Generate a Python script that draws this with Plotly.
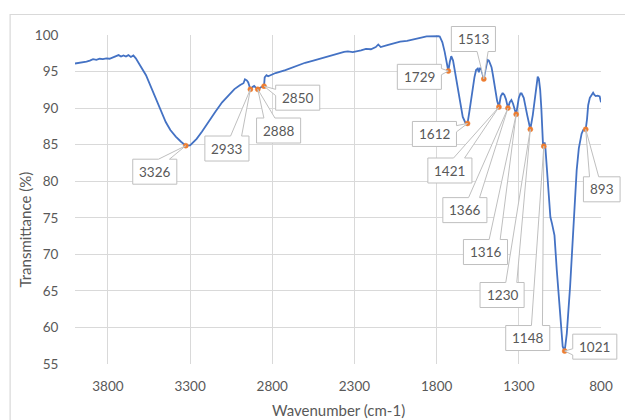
import plotly.graph_objects as go

# ---------------- data ----------------
wavenumber = [4000, 3960, 3930, 3910, 3890, 3870, 3850, 3830, 3810, 3790, 3770, 3750, 3735,
              3720, 3705, 3690, 3675, 3660, 3645, 3630, 3615, 3600, 3568, 3540, 3508, 3478,
              3448, 3420, 3387, 3355, 3326, 3300, 3287, 3260, 3227, 3190, 3146, 3105, 3066,
              3030, 2995, 2975, 2966, 2955, 2946, 2933, 2920, 2910, 2900, 2888, 2869, 2850,
              2846, 2835, 2825, 2780, 2720, 2665, 2600, 2550, 2504, 2420, 2390, 2363, 2340,
              2310, 2260, 2230, 2200, 2170, 2155, 2140, 2100, 2060, 2022, 1980, 1940, 1900,
              1861, 1830, 1801, 1790, 1781, 1765, 1751, 1740, 1729, 1720, 1711, 1700, 1690,
              1681, 1661, 1641, 1625, 1612, 1601, 1590, 1581, 1570, 1560, 1550, 1543, 1537,
              1528, 1520, 1513, 1507, 1500, 1490, 1482, 1474, 1466, 1458, 1444, 1432, 1421,
              1410, 1400, 1396, 1388, 1378, 1366, 1355, 1345, 1335, 1325, 1316, 1300, 1290,
              1283, 1270, 1249, 1230, 1215, 1199, 1190, 1185, 1178, 1170, 1163, 1155, 1152,
              1148, 1143, 1138, 1130, 1118, 1108, 1098, 1083, 1069, 1049, 1033, 1021, 1008,
              988, 968, 948, 935, 928, 918, 908, 893, 885, 878, 868, 858, 848, 840, 832, 820,
              808, 800]
transmittance = [96.1, 96.2, 96.35, 96.5, 96.7, 96.6, 96.75, 96.7, 96.8, 96.75, 96.9, 97.1, 97.25,
                 97.05, 97.2, 97.05, 97.25, 97.0, 97.2, 96.8, 96.3, 95.7, 94.5, 93.0, 91.3, 89.6,
                 88.1, 87.0, 86.1, 85.4, 84.86, 84.9, 85.2, 85.8, 86.8, 88.1, 89.5, 90.8, 91.8,
                 92.6, 93.15, 93.4, 93.95, 93.8, 93.5, 92.57, 92.9, 93.05, 92.8, 92.57, 92.85, 93.0,
                 94.2, 94.5, 94.35, 94.8, 95.2, 95.7, 96.2, 96.5, 96.8, 97.3, 97.5, 97.7, 97.75,
                 97.65, 97.9, 98.1, 98.05, 98.35, 98.7, 98.35, 98.6, 98.85, 99.1, 99.2, 99.45, 99.6,
                 99.8, 99.85, 99.9, 99.85, 99.8, 99.0, 97.7, 96.2, 95.07, 96.3, 97.1, 96.5, 95.2,
                 93.8, 90.9, 88.8, 88.0, 87.9, 89.5, 91.2, 92.7, 94.2, 95.2, 95.4, 94.9, 95.5,
                 95.3, 94.6, 93.98, 94.8, 95.8, 96.6, 96.5, 96.0, 95.6, 94.6, 92.7, 91.0, 90.15,
                 91.6, 92.0, 92.0, 91.8, 91.2, 90.0, 90.8, 91.1, 90.6, 89.8, 89.15, 91.4, 92.0,
                 92.0, 91.4, 89.05, 87.1, 89.05, 92.25, 93.8, 94.3, 94.0, 92.5, 90.0, 85.5, 84.6,
                 84.8, 85.3, 84.5, 82.0, 79.25, 75.1, 74.2, 72.6, 67.85, 61.9, 57.4, 56.77, 59.2,
                 65.6, 73.3, 81.5, 84.5, 85.6, 86.5, 87.0, 87.1, 88.5, 90.4, 91.4, 91.8, 92.1, 91.8, 91.65, 91.7,
                 91.6, 90.8]

peak_wavenumbers = [3326, 2933, 2888, 2850, 1729, 1612, 1513, 1421, 1366, 1316, 1230, 1148, 1021, 893]
peak_values = [84.86, 92.57, 92.57, 93.0, 95.07, 87.9, 93.98, 90.15, 90.0, 89.15, 87.1, 84.8, 56.77, 87.1]
peak_labels = [str(w) for w in peak_wavenumbers]

x_ticks = [3800, 3300, 2800, 2300, 1800, 1300, 800]
y_ticks = [55, 60, 65, 70, 75, 80, 85, 90, 95, 100]

# ---------------- layout geometry ----------------
FW, FH = 625, 420
L, R, T, B = 75, 606, 35, 364
PW, PH = R - L, B - T
X0, X1 = 4000, 800
Y0, Y1 = 55, 100

def px_x(w):
    return L + (X0 - w) / (X0 - X1) * PW

def px_y(t):
    return T + (Y1 - t) / (Y1 - Y0) * PH

def paper_x(p):
    return (p - L) / PW

def paper_y(p):
    return (B - p) / PH

# callout box offsets (pixels, relative to marker)
callout_offsets = [(-31.3, 26.0), (-23.7, 59.2), (21.0, 41.2), (34.0, 11.5), (-29.2, 5.8),
                   (-33.4, 10.5), (-10.5, -40.0), (-49.5, 63.5), (-43.5, 102.0), (-31.0, 137.7),
                   (-28.5, 165.7), (-16.2, 191.9), (30.4, -4.4), (16.2, 60.0)]
BOX_H = 25

TXT = "#595959"
GRID = "#D9D9D9"
FONT = "Lato"

fig = go.Figure()
fig.add_trace(go.Scatter(x=wavenumber, y=transmittance, mode="lines",
                         line=dict(color="#4472C4", width=1.8), hoverinfo="skip"))

shapes = []
annotations = []
for w, t, lab, (ox, oy) in zip(peak_wavenumbers, peak_values, peak_labels, callout_offsets):
    mx, my = px_x(w), px_y(t)
    bw = 37 if len(lab) == 3 else 44.5
    cx, cy = mx + ox, my + oy
    l, r, tp, bt = cx - bw / 2, cx + bw / 2, cy - BOX_H / 2, cy + BOX_H / 2
    dxp, dyp = mx - cx, my - cy
    horiz = abs(dxp) / bw > abs(dyp) / BOX_H
    x1 = l + bw * (7 if dxp > 0 else 2) / 12
    x2 = l + bw * (10 if dxp > 0 else 5) / 12
    y1 = tp + BOX_H * (7 if dyp > 0 else 2) / 12
    y2 = tp + BOX_H * (10 if dyp > 0 else 5) / 12
    pts = [(l, tp)]
    if not horiz and dyp < 0:
        pts += [(x1, tp), (mx, my), (x2, tp)]
    pts += [(r, tp)]
    if horiz and dxp > 0:
        pts += [(r, y1), (mx, my), (r, y2)]
    pts += [(r, bt)]
    if not horiz and dyp > 0:
        pts += [(x2, bt), (mx, my), (x1, bt)]
    pts += [(l, bt)]
    if horiz and dxp < 0:
        pts += [(l, y2), (mx, my), (l, y1)]
    path = "M " + " L ".join(f"{paper_x(px):.5f},{paper_y(py):.5f}" for px, py in pts) + " Z"
    shapes.append(dict(type="path", path=path, xref="paper", yref="paper", layer="above",
                       line=dict(color="#BFBFBF", width=1), fillcolor="white"))
    annotations.append(dict(x=paper_x(cx), y=paper_y(cy), xref="paper", yref="paper",
                            xanchor="center", yanchor="middle",
                            text=lab, showarrow=False,
                            font=dict(family=FONT, size=13.5, color=TXT)))

fig.add_trace(go.Scatter(x=peak_wavenumbers, y=peak_values, mode="markers",
                         marker=dict(color="#ED7D31", size=5,
                                     line=dict(color="#ED7D31", width=0.5)),
                         cliponaxis=False, hoverinfo="skip"))

# chart area border (top + left visible)
shapes.append(dict(type="rect", xref="paper", yref="paper",
                   x0=paper_x(9.5), x1=paper_x(700),
                   y0=paper_y(600), y1=paper_y(14.5),
                   line=dict(color=GRID, width=1.2), fillcolor="rgba(0,0,0,0)", layer="below"))

# axis titles
annotations.append(dict(x=paper_x(340.5), y=paper_y(410.5), xref="paper", yref="paper",
                        xanchor="center", yanchor="middle",
                        text="Wavenumber (cm-1)", showarrow=False,
                        font=dict(family=FONT, size=15, color=TXT)))
annotations.append(dict(x=paper_x(25), y=paper_y(229), xref="paper", yref="paper",
                        xanchor="center", yanchor="middle",
                        text="Transmittance (%)", showarrow=False, textangle=-90,
                        font=dict(family=FONT, size=15, color=TXT)))

fig.update_layout(
    width=FW, height=FH,
    margin=dict(l=L, r=FW - R, t=T, b=FH - B),
    paper_bgcolor="white", plot_bgcolor="white",
    showlegend=False,
    shapes=shapes, annotations=annotations,
    xaxis=dict(range=[X0, X1], tickvals=x_ticks, ticktext=[str(v) for v in x_ticks],
               showgrid=True, gridcolor=GRID, gridwidth=1.2, zeroline=False, showline=False,
               ticks="outside", ticklen=10, tickcolor="rgba(0,0,0,0)",
               tickfont=dict(family=FONT, size=13.5, color=TXT)),
    yaxis=dict(range=[Y0, Y1], tickvals=y_ticks, ticktext=[str(v) for v in y_ticks],
               showgrid=True, gridcolor=GRID, gridwidth=1.2, zeroline=False, showline=False,
               ticks="outside", ticklen=13, tickcolor="rgba(0,0,0,0)",
               tickfont=dict(family=FONT, size=13.5, color=TXT)),
)

fig.write_html("out.html", config={"displayModeBar": False},
               post_script="document.body.style.margin='0';document.body.style.overflow='hidden';")
